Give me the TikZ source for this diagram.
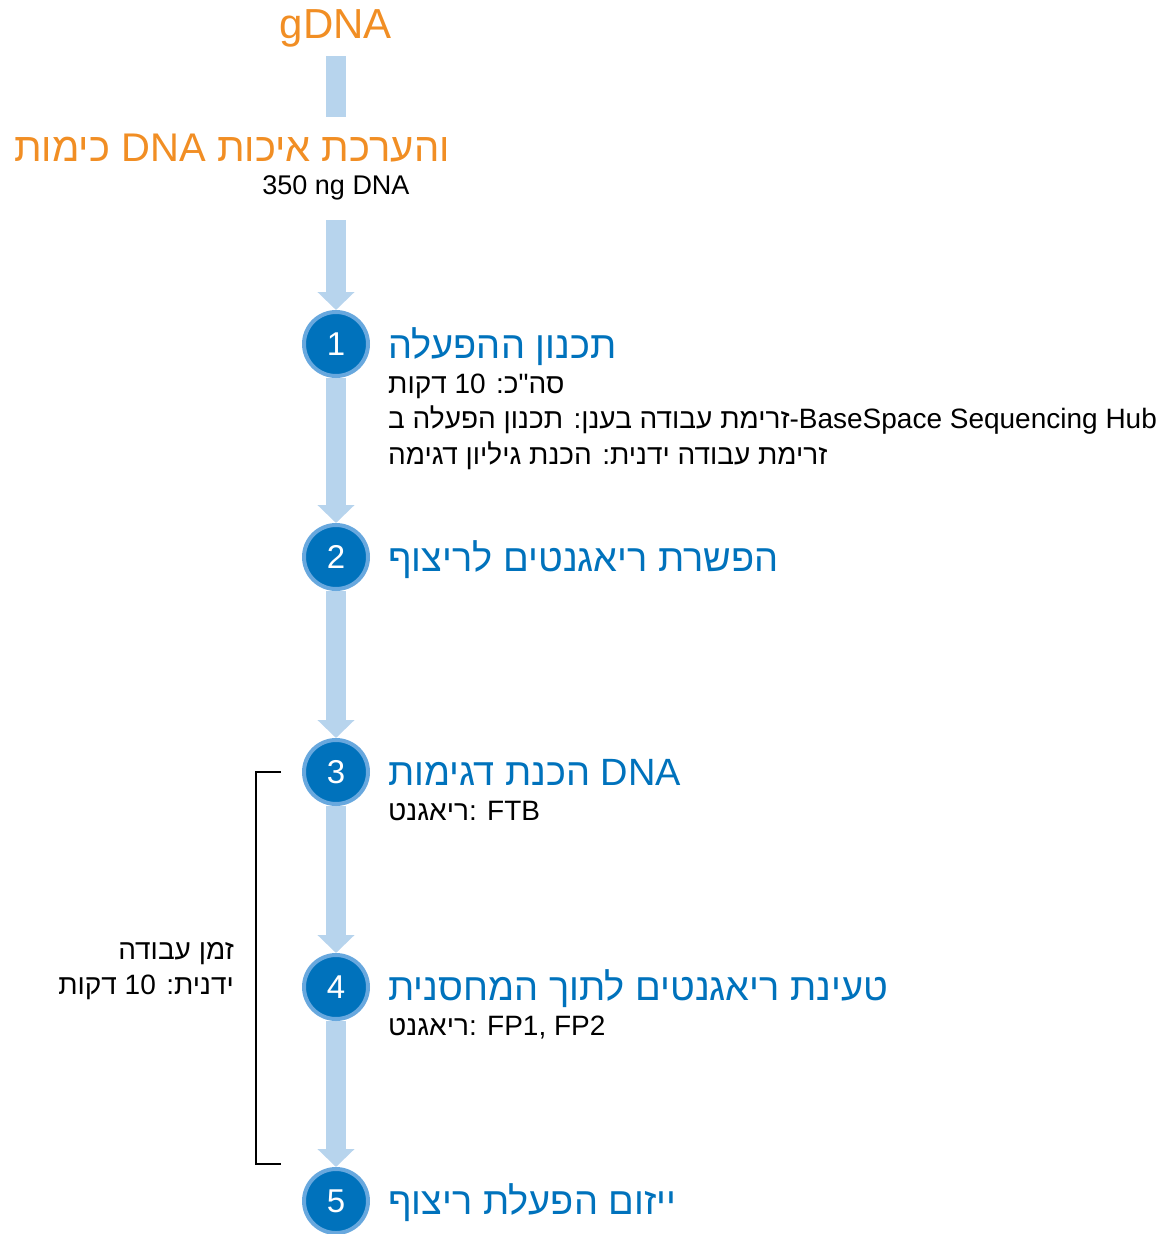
\documentclass[tikz,border=0pt]{standalone}
\usepackage{fontspec}
\setmainfont{Liberation Sans}
\newfontfamily\hebfont[Script=Hebrew]{Liberation Sans}
\TeXXeTstate=1
\usetikzlibrary{positioning}
\usetikzlibrary{arrows.meta}
\usetikzlibrary{backgrounds}
\definecolor{orangeT}{RGB}{241,142,36}
\definecolor{stepblue}{RGB}{0,114,188}
\definecolor{ringblue}{RGB}{104,168,222}
\definecolor{barblue}{RGB}{183,212,237}
\newcommand{\heb}[1]{{\hebfont\beginR #1\endR}}

\begin{document}
\begin{tikzpicture}[x=1pt,y=-1pt,
  stepdot/.style={circle,fill=stepblue,draw=ringblue,line width=4pt,minimum size=64pt,inner sep=0pt,text=white,font=\fontsize{33}{33}\selectfont},
  steptitle/.style={text=stepblue,inner sep=0pt,anchor=base west,font=\fontsize{38}{40}\selectfont},
  stepnote/.style={inner sep=0pt,align=left,font=\fontsize{28}{35.5}\selectfont},
  spine/.style={barblue,line width=20pt},
  flow/.style={spine,-{Triangle[width=36pt,length=18pt]}}]
\useasboundingbox (0,0) rectangle (1166,1234);

% start: sample and its quantification
\node[text=orangeT,inner sep=0pt,font=\fontsize{42}{44}\selectfont] (g) at (336,28) {gDNA};
\node[text=orangeT,inner sep=0pt,font=\fontsize{40}{42}\selectfont] (q) at (232,148) {\heb{כימות} DNA \heb{והערכת איכות}};
\node[inner sep=0pt,font=\fontsize{27}{30}\selectfont] (amt) at (336,188) {350 ng DNA};

% numbered steps
\foreach \n/\y in {1/344,2/557,3/772,4/987,5/1201}
  \node[stepdot] (s\n) at (336,\y) {\n};

\node[steptitle, below right=14pt and 52pt of s1.center, anchor=base west] (t1) {\heb{תכנון ההפעלה}};
% base of a three-line note is its last line
\node[stepnote, below=106pt of t1.base west, anchor=base west] (d1) {\heb{סה"כ: 10 דקות}\\
  \heb{זרימת עבודה בענן: תכנון הפעלה ב}-BaseSpace Sequencing Hub\\
  \heb{זרימת עבודה ידנית: הכנת גיליון דגימה}};
\node[steptitle, below right=14pt and 52pt of s2.center, anchor=base west] (t2) {\heb{הפשרת ריאגנטים לריצוף}};
\node[steptitle, below right=13pt and 52pt of s3.center, anchor=base west] (t3) {\heb{הכנת דגימות} DNA};
\node[stepnote, below=35pt of t3.base west, anchor=base west] (d3) {\heb{ריאגנט}: FTB};
\node[steptitle, below right=13pt and 52pt of s4.center, anchor=base west] (t4) {\heb{טעינת ריאגנטים לתוך המחסנית}};
\node[stepnote, below=35pt of t4.base west, anchor=base west] (d4) {\heb{ריאגנט}: FP1, FP2};
\node[steptitle, below right=13pt and 52pt of s5.center, anchor=base west] (t5) {\heb{ייזום הפעלת ריצוף}};

\begin{scope}[on background layer]
\draw[spine, shorten <=9pt, shorten >=17pt] (g.south) -- (g.south |- q.north);
\draw[flow, shorten <=20pt] (amt.south) -- (s1.north);
\foreach \a/\b in {1/2,2/3,3/4,4/5}
  \draw[flow] (s\a.south) -- (s\b.north);
\end{scope}

% hands-on time bracket
\coordinate (bt) at (281,772);
\coordinate (bb) at (281,1164);
\draw[line width=2pt] (bt) -- ++(-25,0) |- (bb);
\node[stepnote, align=right, anchor=east] (wt) at (234,971) {\heb{זמן עבודה}\\\heb{ידנית: 10 דקות}};

\end{tikzpicture}
\end{document}
